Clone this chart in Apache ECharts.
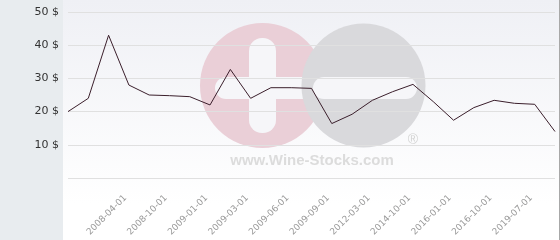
<!DOCTYPE html>
<html><head><meta charset="utf-8">
<script src="https://cdn.jsdelivr.net/npm/echarts@6/dist/echarts.min.js"></script>
<style>html,body{margin:0;padding:0;background:#fff}#c{width:560px;height:240px}</style>
</head><body><div id="c"></div>
<script>
var categories = ['2007-10-01','2008-01-01','2008-02-01','2008-04-01','2008-07-01','2008-10-01','2008-11-01','2009-01-01','2009-02-01','2009-03-01','2009-04-01','2009-06-01','2009-07-01','2009-09-01','2010-06-01','2012-03-01','2013-06-01','2014-10-01','2015-06-01','2016-01-01','2016-06-01','2016-10-01','2018-01-01','2019-07-01','2020-01-01'];
var prices = [20, 24, 43, 28, 25, 24.8, 24.5, 22, 32.7, 24, 27.2, 27.2, 27, 16.4, 19.2, 23.4, 26, 28.2, 23, 17.4, 21.2, 23.4, 22.5, 22.2, 14];
var yTicks = [0, 10, 20, 30, 40, 50];
var currency = ' $';

var chart = echarts.init(document.getElementById('c'));
chart.setOption({
  animation: false,
  backgroundColor: '#ffffff',
  grid: {left: 68, right: 5, top: 12, bottom: 62},
  graphic: [
    {type: 'rect', z: -20, shape: {x: 0, y: 0, width: 63, height: 240}, style: {fill: '#e8ecef'}, silent: true},
    {type: 'rect', z: -20, shape: {x: 63, y: 0, width: 497, height: 240}, silent: true,
      style: {fill: new echarts.graphic.LinearGradient(0, 0, 0, 1, [{offset: 0, color: '#eff0f5'}, {offset: 0.85, color: '#ffffff'}, {offset: 1, color: '#ffffff'}])}},
    {type: 'line', z: -19, silent: true, shape: {x1: 559.5, y1: 0, x2: 559.5, y2: 240}, style: {stroke: '#a8a8a8', lineWidth: 1}},
    {type: 'circle', z: -10, silent: true, shape: {cx: 262.5, cy: 85.5, r: 62.5}, style: {fill: '#eacfd7'}},
    {type: 'rect', z: -9, silent: true, shape: {x: 249, y: 38, width: 27, height: 95, r: 13}, style: {fill: '#f6f6f9'}},
    {type: 'rect', z: -9, silent: true, shape: {x: 215, y: 77, width: 100, height: 22, r: 11}, style: {fill: '#f6f6f9'}},
    {type: 'circle', z: -8, silent: true, shape: {cx: 363.5, cy: 85.5, r: 62}, style: {fill: '#d9d9dc'}},
    {type: 'rect', z: -7, silent: true, shape: {x: 313, y: 77, width: 104, height: 22, r: 11}, style: {fill: '#f6f6f9'}},
    {type: 'text', z: -7, silent: true, x: 312, y: 161, style: {text: 'www.Wine-Stocks.com', fill: '#dcdcdc', font: 'bold 15px "Liberation Sans", Arial, sans-serif', align: 'center', verticalAlign: 'middle'}},
    {type: 'text', z: -7, silent: true, x: 413, y: 140, style: {text: '®', fill: '#d3d3d3', font: '14px "Liberation Sans", Arial, sans-serif', align: 'center', verticalAlign: 'middle'}}
  ],
  xAxis: {
    type: 'category', data: categories, boundaryGap: false,
    axisLine: {show: false}, axisTick: {show: false}, splitLine: {show: false},
    axisLabel: {
      rotate: 45, margin: 15, padding: [0, 5, 0, 0], color: '#999999', fontSize: 9, fontFamily: '"DejaVu Sans", sans-serif',
      interval: function (i) { return i >= 3 && i % 2 === 1; }
    }
  },
  yAxis: {
    type: 'value', min: yTicks[0], max: yTicks[yTicks.length - 1], interval: 10,
    axisLine: {show: false}, axisTick: {show: false},
    splitLine: {lineStyle: {color: '#e0e0e0', width: 1}},
    axisLabel: {margin: 9, color: '#333333', fontSize: 11, fontFamily: '"DejaVu Sans", sans-serif',
      formatter: function (v) { return v === 0 ? '' : v + currency; }}
  },
  series: [{
    type: 'line', data: prices, symbol: 'none', smooth: false,
    lineStyle: {color: '#3b1f2c', width: 1}
  }]
});
</script></body></html>
